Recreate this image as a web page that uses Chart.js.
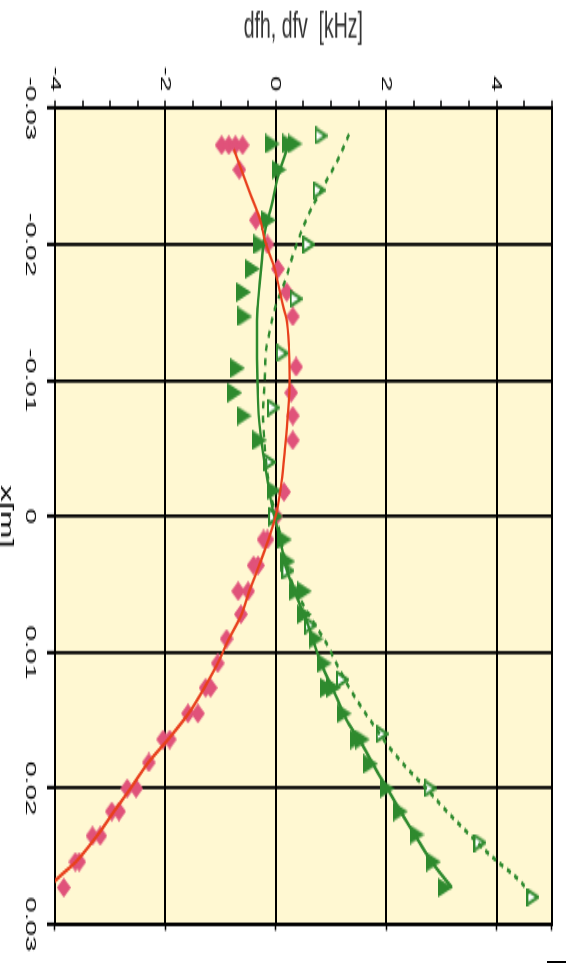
<!DOCTYPE html>
<html><head><meta charset="utf-8">
<script src="https://cdn.jsdelivr.net/npm/chart.js@4.4.1/dist/chart.umd.min.js"></script>
<style>
html,body{margin:0;padding:0;background:#fff;}
#page{position:relative;width:566px;height:964px;overflow:hidden;background:#fff;}
#wrap{position:absolute;left:0;top:0;width:536px;height:566px;transform-origin:0 0;transform:matrix(0,1.79851,-1,0,566,0);}
#c{display:block;width:536px;height:566px;}
#edge{position:absolute;left:547px;top:961px;width:19px;height:2px;background:#000;}
</style></head>
<body><div id="page"><div id="wrap"><canvas id="c" width="536" height="566"></canvas></div><div id="edge"></div></div>
<script>
// ---- data (x in m, df in kHz) ----
const xTickLabels = ['-0.03','-0.02','-0.01','0','0.01','0.02','0.03'];
const yTickLabels = ['-4','-2','0','2','4'];

// dfh measured (pink diamonds)
const xPink = [-0.0273,-0.0273,-0.0273,-0.0273,-0.0255,-0.0218,-0.0200,-0.0182,-0.0165,-0.0147,-0.0110,-0.0091,-0.0074,-0.0056,-0.0018,0.0000,0.0017,0.0017,0.0036,0.0036,0.0055,0.0055,0.0072,0.0090,0.0108,0.0126,0.0126,0.0145,0.0145,0.0164,0.0164,0.0181,0.0200,0.0200,0.0217,0.0217,0.0235,0.0235,0.0254,0.0254,0.0273];
const yPink = [-0.98,-0.85,-0.73,-0.60,-0.66,-0.36,-0.15,0.04,0.20,0.31,0.37,0.28,0.31,0.31,0.15,0.01,-0.22,-0.15,-0.40,-0.32,-0.68,-0.50,-0.63,-0.89,-1.05,-1.27,-1.18,-1.59,-1.41,-2.04,-1.92,-2.30,-2.69,-2.53,-2.97,-2.84,-3.32,-3.18,-3.63,-3.56,-3.84];

// dfv measured (filled green triangles)
const xFill = [-0.0274,-0.0274,-0.0274,-0.0255,-0.0218,-0.0200,-0.0182,-0.0165,-0.0147,-0.0109,-0.0091,-0.0074,-0.0056,-0.0019,0.0000,0.0017,0.0033,0.0055,0.0055,0.0072,0.0090,0.0108,0.0126,0.0126,0.0145,0.0164,0.0164,0.0182,0.0200,0.0217,0.0234,0.0254,0.0273];
const yFill = [-0.06,0.25,0.35,0.06,-0.13,-0.27,-0.42,-0.58,-0.56,-0.69,-0.74,-0.57,-0.29,-0.03,0.00,0.16,0.22,0.37,0.52,0.52,0.73,0.88,0.94,1.05,1.24,1.48,1.57,1.72,2.02,2.26,2.56,2.86,3.07];

// second dfv set (open green triangles)
const xOpen = [-0.028,-0.024,-0.020,-0.016,-0.012,-0.008,-0.004,0.000,0.004,0.008,0.012,0.016,0.020,0.024,0.028];
const yOpen = [0.82,0.79,0.60,0.37,0.12,-0.04,-0.11,-0.02,0.22,0.63,1.21,1.93,2.80,3.70,4.66];

// fit curves
const xRedFit = [-0.0270,-0.0238,-0.0219,-0.0202,-0.0182,-0.0155,-0.0146,-0.0124,-0.0102,-0.0075,-0.0051,-0.0024,-0.0002,0.0018,0.0036,0.0055,0.0072,0.0091,0.0108,0.0125,0.0145,0.0164,0.0181,0.0200,0.0217,0.0235,0.0254,0.0265,0.0272];
const yRedFit = [-0.76,-0.47,-0.29,-0.19,-0.02,0.13,0.19,0.24,0.25,0.22,0.17,0.10,0.01,-0.14,-0.30,-0.48,-0.62,-0.86,-1.05,-1.28,-1.58,-1.95,-2.31,-2.63,-2.93,-3.24,-3.62,-3.92,-4.10];

const xGreenFit = [-0.0272,-0.0250,-0.0228,-0.0211,-0.0189,-0.0172,-0.0153,-0.0133,-0.0099,-0.0075,-0.0046,-0.0024,-0.0004,0.0010,0.0042,0.0061,0.0083,0.0108,0.0132,0.0151,0.0168,0.0188,0.0200,0.0219,0.0239,0.0256,0.0273];
const yGreenFit = [0.22,0.04,-0.08,-0.19,-0.25,-0.29,-0.33,-0.34,-0.33,-0.31,-0.23,-0.14,-0.05,0.04,0.22,0.40,0.61,0.82,1.09,1.30,1.57,1.84,2.02,2.29,2.59,2.86,3.19];

const xDashFit = [-0.0281,-0.0262,-0.0244,-0.0226,-0.0209,-0.0192,-0.0172,-0.0155,-0.0136,-0.0124,-0.0099,-0.0075,-0.0058,-0.0038,-0.0014,0.0005,0.0030,0.0047,0.0071,0.0095,0.0110,0.0132,0.0154,0.0171,0.0188,0.0198,0.0217,0.0232,0.0249,0.0268,0.0277];
const yDashFit = [1.33,1.12,0.88,0.64,0.46,0.31,0.16,0.00,-0.11,-0.17,-0.20,-0.23,-0.21,-0.17,-0.08,0.04,0.16,0.28,0.58,0.94,1.12,1.42,1.78,2.08,2.44,2.68,3.10,3.46,3.88,4.42,4.60];

// ---- styling ----
const PINK = '#e0527a', RED = '#e8401c', GREEN = '#2e8a2e', BG = '#fff8d2';

function marker(w, h, draw) {
  const c = document.createElement('canvas');
  c.width = w; c.height = h;
  draw(c.getContext('2d'));
  return c;
}
const diamond = marker(11, 14, g => {
  g.fillStyle = PINK; g.beginPath();
  g.moveTo(5.5, 0); g.lineTo(11, 7); g.lineTo(5.5, 14); g.lineTo(0, 7); g.closePath(); g.fill();
});
const triFill = marker(11, 15, g => {
  g.fillStyle = GREEN; g.beginPath();
  g.moveTo(5.5, 0); g.lineTo(11, 15); g.lineTo(0, 15); g.closePath(); g.fill();
});
const triOpen = marker(10, 13, g => {
  g.fillStyle = '#fff'; g.strokeStyle = GREEN; g.lineWidth = 2; g.beginPath();
  g.moveTo(5, 1.3); g.lineTo(9, 12); g.lineTo(1, 12); g.closePath(); g.fill(); g.stroke();
});

const pts = (xs, ys) => xs.map((x, i) => ({x: x, y: ys[i]}));

const bgPlugin = {
  id: 'bg',
  beforeDraw(chart) {
    const {ctx, chartArea: a} = chart;
    ctx.save(); ctx.fillStyle = BG;
    ctx.fillRect(a.left, a.top, a.right - a.left, a.bottom - a.top);
    ctx.restore();
  }
};

const FONT = '"Liberation Sans", Arial, Helvetica, sans-serif';
const isMajor = v => Math.abs(v / 2 - Math.round(v / 2)) < 1e-9;

new Chart(document.getElementById('c'), {
  type: 'scatter',
  plugins: [bgPlugin],
  data: {
    datasets: [
      {label: 'dfh fit', data: pts(xRedFit, yRedFit), showLine: true, borderColor: RED, borderWidth: 2.2, pointRadius: 0, cubicInterpolationMode: 'monotone', order: 0},
      {label: 'dfv fit', data: pts(xGreenFit, yGreenFit), showLine: true, borderColor: GREEN, borderWidth: 2.4, pointRadius: 0, cubicInterpolationMode: 'monotone', order: 0},
      {label: 'dfv fit 2', data: pts(xDashFit, yDashFit), showLine: true, borderColor: GREEN, borderWidth: 2.4, borderDash: [4, 4], pointRadius: 0, cubicInterpolationMode: 'monotone', order: 0},
      {label: 'dfv 2', data: pts(xOpen, yOpen), pointStyle: triOpen, pointRadius: 7, order: 1},
      {label: 'dfv', data: pts(xFill, yFill), pointStyle: triFill, pointRadius: 8, order: 2},
      {label: 'dfh', data: pts(xPink, yPink), pointStyle: diamond, pointRadius: 7, order: 3}
    ]
  },
  options: {
    responsive: false,
    animation: false,
    events: [],
    layout: {padding: {top: 10, right: 14.9, bottom: 0, left: 0}},
    plugins: {legend: {display: false}, tooltip: {enabled: false}},
    scales: {
      x: {
        type: 'linear', position: 'bottom', min: -0.03, max: 0.03,
        afterFit: s => { s.height = 55; },
        ticks: {stepSize: 0.01, autoSkip: false, maxRotation: 0, padding: 7, color: '#000',
          font: {family: FONT, size: 15.5},
          callback: (v, i) => xTickLabels[i]},
        grid: {color: '#000', lineWidth: 1.8, tickLength: 8, tickWidth: 2, tickColor: '#000'},
        border: {display: true, color: '#000', width: 2},
        title: {display: true, text: 'x[m]', color: '#000', font: {family: FONT, size: 18.5}, padding: {top: 0, bottom: -4.6}}
      },
      x2: {
        type: 'linear', position: 'top', min: -0.03, max: 0.03,
        afterFit: s => { s.height = 0; },
        ticks: {display: false},
        grid: {drawOnChartArea: false, drawTicks: false},
        border: {display: true, color: '#000', width: 2}
      },
      y: {
        type: 'linear', position: 'left', min: -4, max: 5,
        afterFit: s => { s.width = 60.33; },
        ticks: {stepSize: 0.5, autoSkip: false, padding: 5, color: '#000',
          font: {family: FONT, size: 15.5},
          callback: v => isMajor(v) ? String(Math.round(v)) : ''},
        grid: {
          color: c => (c.tick && isMajor(c.tick.value) && c.tick.value !== -4) ? '#000' : 'rgba(0,0,0,0)',
          lineWidth: 2, tickLength: 4.5, tickWidth: 1.5, tickColor: '#000'},
        border: {display: true, color: '#000', width: 2},
        title: {display: true, text: 'dfh, dfv  [kHz]', color: '#333', font: {family: FONT, size: 19.5}, padding: {top: 4, bottom: 0}}
      },
      y2: {
        type: 'linear', position: 'right', min: -4, max: 5,
        afterFit: s => { s.width = 4; },
        ticks: {display: false, stepSize: 2},
        grid: {drawOnChartArea: false, tickLength: 3.5, tickWidth: 1.5, tickColor: '#000'},
        border: {display: true, color: '#000', width: 2}
      }
    }
  }
});
</script>
</body></html>
